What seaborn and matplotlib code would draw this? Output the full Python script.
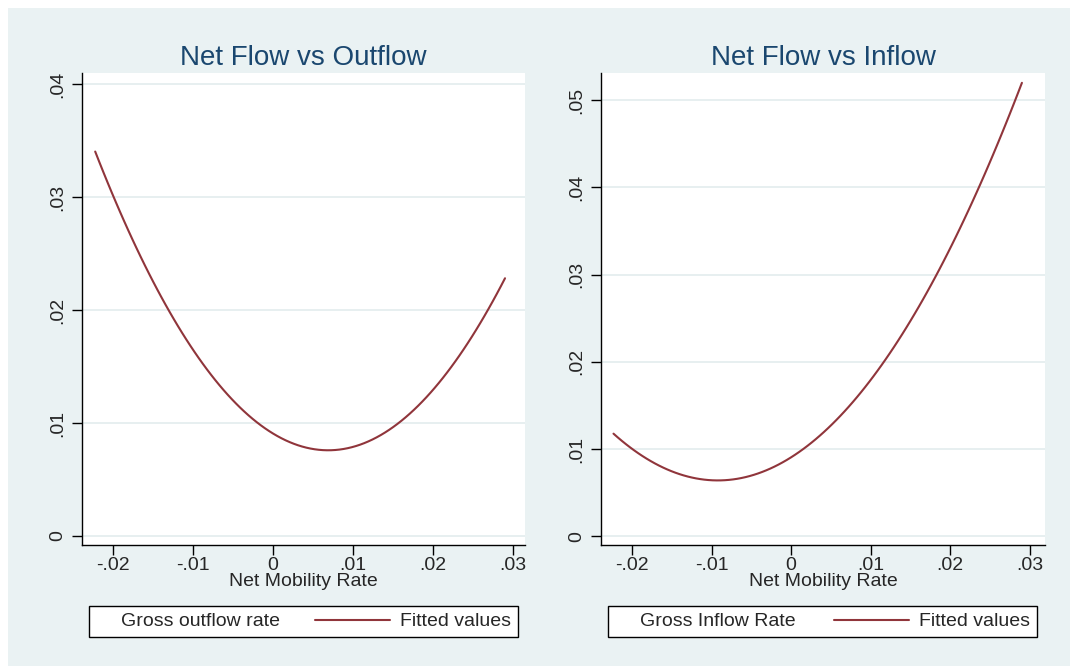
import matplotlib
matplotlib.use("Agg")
import matplotlib.pyplot as plt
from matplotlib.lines import Line2D
from matplotlib.patches import Rectangle
from matplotlib.legend_handler import HandlerLine2D
import pandas as pd
import seaborn as sns

# DATA

# fitted curve, left panel: net mobility rate vs gross outflow rate
out_x = [-0.02225, -0.01996, -0.01725, -0.0154, -0.0131, -0.00975, -0.0062, -0.0020,
         0.0021, 0.0071, 0.0121, 0.0163, 0.0196, 0.0244, 0.0290]
out_y = [0.0342, 0.0301, 0.0255, 0.0232, 0.0198, 0.0162, 0.0130, 0.0100,
         0.0084, 0.0077, 0.0086, 0.0102, 0.0125, 0.0171, 0.0229]

# fitted curve, right panel: net mobility rate vs gross inflow rate
in_x = [-0.02233, -0.01817, -0.01317, -0.0092, -0.0040, 0.0002, 0.0043, 0.0089,
        0.0114, 0.0152, 0.0185, 0.0218, 0.0243, 0.0268, 0.0290]
in_y = [0.01173, 0.00891, 0.0070, 0.00642, 0.00726, 0.0090, 0.0120, 0.0166,
        0.0197, 0.0252, 0.0304, 0.0365, 0.0415, 0.0468, 0.0519]

x_ticks = [-0.02, -0.01, 0, 0.01, 0.02, 0.03]
x_labels = ['-.02', '-.01', '0', '.01', '.02', '.03']
out_yticks = [0, 0.01, 0.02, 0.03, 0.04]
out_ylabels = ['0', '.01', '.02', '.03', '.04']
in_yticks = [0, 0.01, 0.02, 0.03, 0.04, 0.05]
in_ylabels = ['0', '.01', '.02', '.03', '.04', '.05']

titles = ['Net Flow vs Outflow', 'Net Flow vs Inflow']
scatter_labels = ['Gross outflow rate', 'Gross Inflow Rate']

#_________________________________________________________________________

# STYLE

sns.set_theme(style="white")
plt.rcParams['font.family'] = ['Liberation Sans', 'DejaVu Sans']

bg = '#EAF2F3'
line_col = '#90353B'
title_col = '#1A476F'
fs = 14


# legend key for the fitted line: Stata draws it long, reaching into the column gap
class LongLineHandler(HandlerLine2D):
    def create_artists(self, legend, orig_handle, xdescent, ydescent, width, height, fontsize, trans):
        extra = 3.1 * fontsize
        return super().create_artists(legend, orig_handle, xdescent + extra, ydescent,
                                      width + extra, height, fontsize, trans)


fig = plt.figure(figsize=(10.7, 6.66), dpi=100)
fig.patch.set_facecolor('white')
fig.patches.append(Rectangle((8 / 1070, 0), 1, (666 - 8) / 666, transform=fig.transFigure,
                             facecolor=bg, edgecolor='none', zorder=-10))

ax1 = fig.add_axes([82 / 1070, 121 / 666, 443 / 1070, 472 / 666])
ax2 = fig.add_axes([601 / 1070, 121 / 666, 444 / 1070, 472 / 666])

panels = [
    (ax1, out_x, out_y, out_yticks, out_ylabels, (-0.0239, 0.0315), (-0.0008, 0.041)),
    (ax2, in_x, in_y, in_yticks, in_ylabels, (-0.0239, 0.0319), (-0.001, 0.0531)),
]
legend_boxes = [(89, 606, 518, 639), (608, 606, 1037, 639)]

for i, (ax, xs, ys, yt, yl, xlim, ylim) in enumerate(panels):
    df = pd.DataFrame({'x': xs, 'y': ys})
    # quadratic fit line (Stata qfit) through the read points
    sns.regplot(data=df, x='x', y='y', ax=ax, order=2, scatter=False, ci=None,
                color=line_col, line_kws={'linewidth': 1.5})

    ax.set_facecolor('white')
    ax.set_xlim(*xlim)
    ax.set_ylim(*ylim)
    ax.set_xticks(x_ticks)
    ax.set_xticklabels(x_labels, fontsize=fs)
    ax.set_yticks(yt)
    ax.set_yticklabels(yl, fontsize=fs, rotation=90, va='center')
    ax.tick_params(axis='both', direction='out', length=7, width=1, color='black',
                   bottom=True, left=True)
    ax.tick_params(axis='x', pad=2)
    ax.tick_params(axis='y', pad=4)
    ax.yaxis.grid(True, color='#E3ECEE', linewidth=1.2)
    ax.set_axisbelow(True)
    for side in ['top', 'right']:
        ax.spines[side].set_visible(False)
    for side in ['left', 'bottom']:
        ax.spines[side].set_color('black')
        ax.spines[side].set_linewidth(1)
    ax.set_xlabel('Net Mobility Rate', fontsize=fs, labelpad=-1)
    ax.set_ylabel('')
    ax.set_title(titles[i], fontsize=20, color=title_col, pad=6)

    # legend below the plot, like the Stata original
    x0, y0, x1, y1 = legend_boxes[i]
    blank = Line2D([], [], color='none')
    fit = Line2D([], [], color=line_col, linewidth=1.5)
    leg = ax.legend([blank, fit], [scatter_labels[i], 'Fitted values'], ncol=2,
                    loc='upper left', mode='expand',
                    bbox_to_anchor=(x0 / 1070, (666 - y1) / 666, (x1 - x0) / 1070, (y1 - y0) / 666),
                    bbox_transform=fig.transFigure, frameon=True, fancybox=False,
                    edgecolor='black', framealpha=1, fontsize=fs, handlelength=0.8,
                    borderaxespad=0, borderpad=0.35, columnspacing=1.0, handletextpad=0.5,
                    handler_map={fit: LongLineHandler()})
    leg.get_frame().set_linewidth(1)
    leg.get_frame().set_facecolor('white')

fig.savefig('out.png', dpi=100, facecolor=fig.get_facecolor())
